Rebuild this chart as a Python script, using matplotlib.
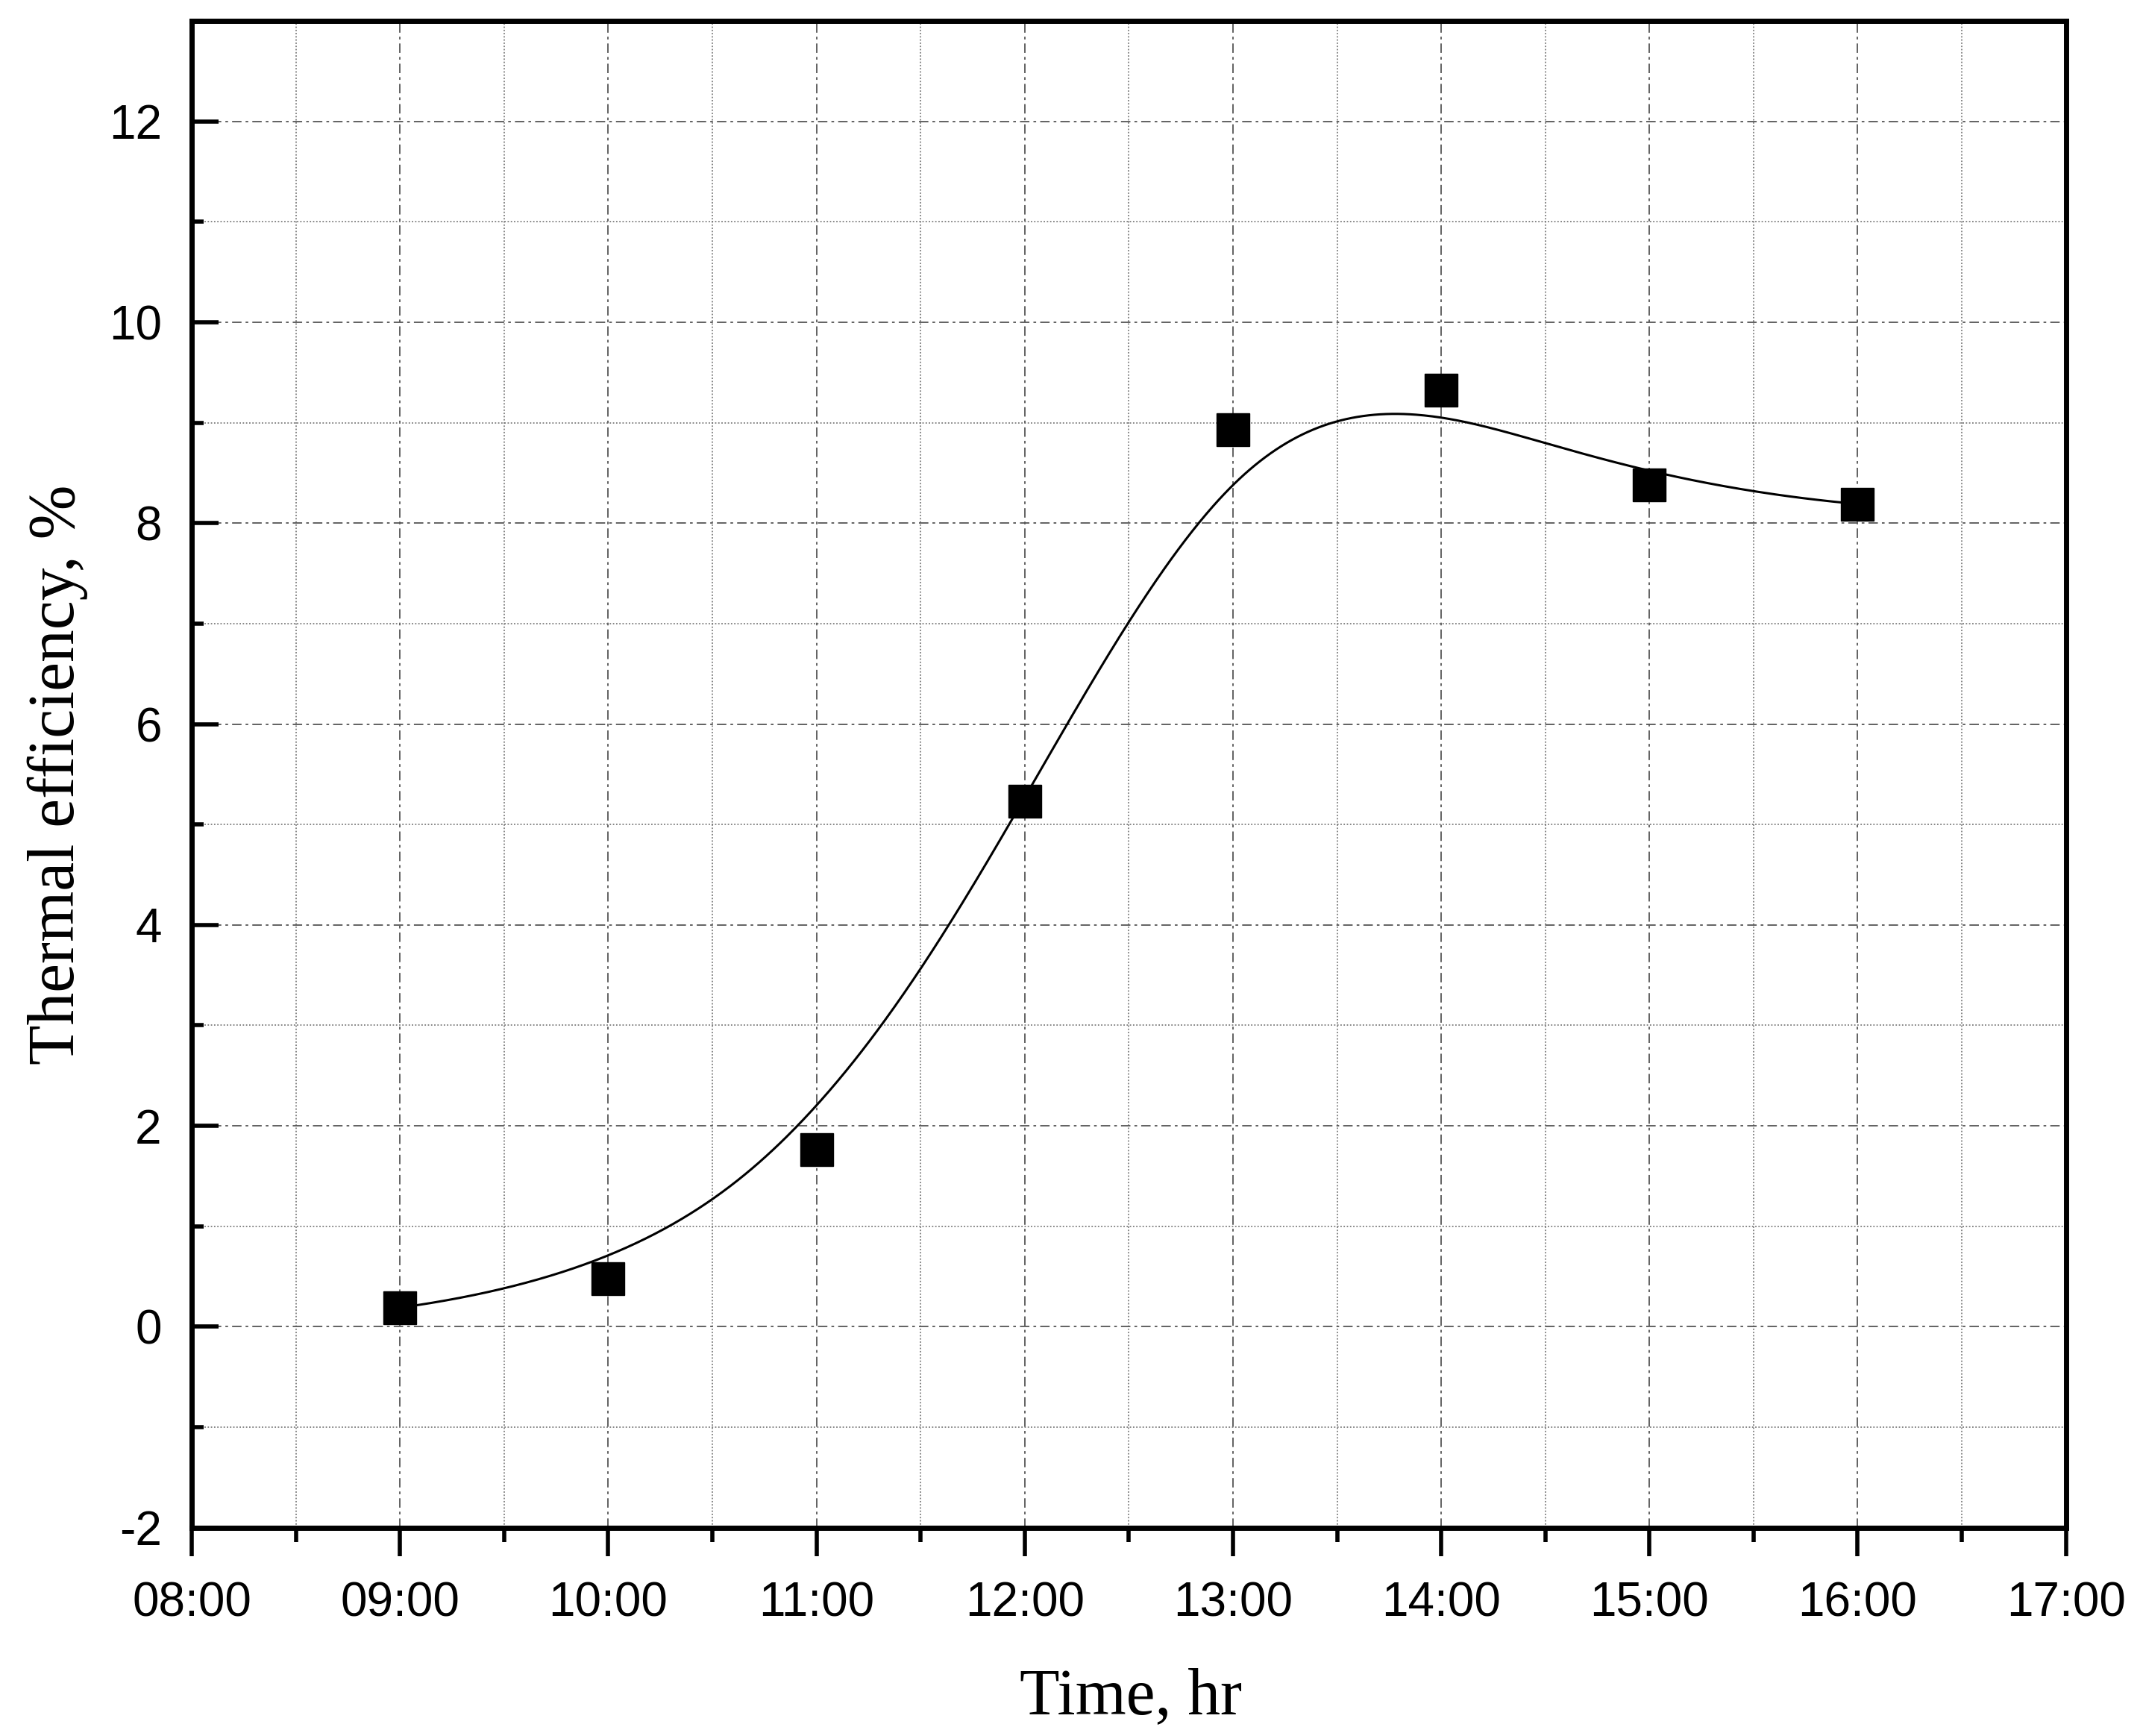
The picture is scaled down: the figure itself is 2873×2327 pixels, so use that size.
import numpy as np
import matplotlib
matplotlib.use("Agg")
import matplotlib.pyplot as plt
from matplotlib.ticker import MultipleLocator

# ---- data ----
hours = [9, 10, 11, 12, 13, 14, 15, 16]
efficiency = [0.19, 0.48, 1.76, 5.23, 8.93, 9.32, 8.38, 8.19]
x_ticks = [8, 9, 10, 11, 12, 13, 14, 15, 16, 17]
x_tick_labels = ["08:00", "09:00", "10:00", "11:00", "12:00",
                 "13:00", "14:00", "15:00", "16:00", "17:00"]
y_ticks = [-2, 0, 2, 4, 6, 8, 10, 12]
y_tick_labels = ["-2", "0", "2", "4", "6", "8", "10", "12"]


def bspline_curve(px, py, k=3, n_eval=600):
    """Clamped B-spline using data points as control points (Origin-style B-spline line)."""
    P = np.column_stack([px, py]).astype(float)
    n = len(P)
    inner = np.arange(1, n - k)
    knots = np.concatenate([np.zeros(k + 1), inner, np.full(k + 1, n - k)]).astype(float)
    t = np.linspace(0, n - k, n_eval)
    t[-1] -= 1e-9

    def basis(i, d, tt):
        if d == 0:
            return np.where((knots[i] <= tt) & (tt < knots[i + 1]), 1.0, 0.0)
        out = np.zeros_like(tt)
        den1 = knots[i + d] - knots[i]
        den2 = knots[i + d + 1] - knots[i + 1]
        if den1 > 0:
            out += (tt - knots[i]) / den1 * basis(i, d - 1, tt)
        if den2 > 0:
            out += (knots[i + d + 1] - tt) / den2 * basis(i + 1, d - 1, tt)
        return out

    B = np.array([basis(i, k, t) for i in range(n)])
    C = B.T @ P
    return C[:, 0], C[:, 1]


cx, cy = bspline_curve(hours, efficiency)

fig = plt.figure(figsize=(28.73, 23.27), dpi=100)
ax = fig.add_axes([0.0895, 0.12, 0.8745, 0.868])

ax.set_xlim(8, 17)
ax.set_ylim(-2, 13)

# grid
ax.set_axisbelow(True)
ax.xaxis.set_minor_locator(MultipleLocator(0.5))
ax.yaxis.set_minor_locator(MultipleLocator(1))
ax.grid(which="major", color="#555555", linestyle=(0, (7, 3, 2, 3)), linewidth=1.3)
ax.grid(which="minor", color="#666666", linestyle=(0, (1.2, 1.6)), linewidth=1.1)

# data
ax.plot(cx, cy, color="black", linewidth=2.2, zorder=3)
ax.plot(hours, efficiency, linestyle="none", marker="s", markersize=32,
        color="black", zorder=4)

# ticks
ax.set_xticks(x_ticks)
ax.set_xticklabels(x_tick_labels)
ax.set_yticks(y_ticks)
ax.set_yticklabels(y_tick_labels)

for lab in ax.get_xticklabels() + ax.get_yticklabels():
    lab.set_fontfamily(["Liberation Sans", "DejaVu Sans"])
    lab.set_fontsize(46)

ax.tick_params(axis="x", which="major", direction="out", length=27, width=4, pad=25,
               top=False, bottom=True)
ax.tick_params(axis="x", which="minor", direction="out", length=14, width=4,
               top=False, bottom=True)
ax.tick_params(axis="y", which="major", direction="in", length=26, width=4, pad=29,
               left=True, right=False)
ax.tick_params(axis="y", which="minor", direction="in", length=11.5, width=4,
               left=True, right=False)

for s in ax.spines.values():
    s.set_linewidth(5)
    s.set_color("black")

# labels
ax.set_xlabel("Time, hr", family=["Liberation Serif", "DejaVu Serif"], fontsize=63)
ax.xaxis.label.set_va("baseline")
ax.xaxis.set_label_coords(0.501, -0.1233)

ax.set_ylabel("Thermal efficiency, %", family=["Liberation Serif", "DejaVu Serif"], fontsize=63)
ax.yaxis.label.set_va("center")
ax.yaxis.set_label_coords(-0.0716, 0.5)

fig.savefig("out.png", dpi=100, facecolor="white")
